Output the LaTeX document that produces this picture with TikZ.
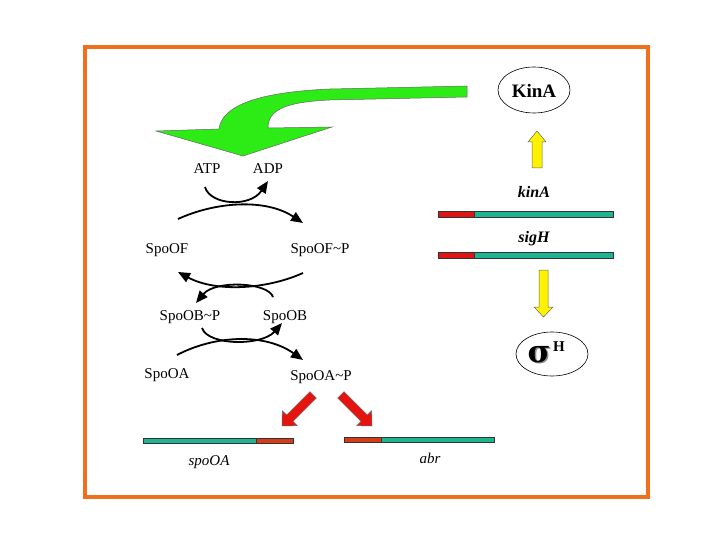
\documentclass[tikz,border=0pt]{standalone}
\usepackage{fontspec}
\setmainfont{Liberation Serif}
\newfontfamily\sigmafont{DejaVu Serif}
\usetikzlibrary{arrows.meta,shapes.geometric}
\definecolor{borderorange}{RGB}{238,112,28}
\definecolor{arrowgreen}{RGB}{45,235,20}
\definecolor{genteal}{RGB}{30,180,145}
\definecolor{genred}{RGB}{225,20,20}
\definecolor{genorange}{RGB}{215,60,25}
\definecolor{blockred}{RGB}{230,20,15}
\begin{document}
\begin{tikzpicture}[x=1pt,y=-1pt,
  lbl/.style={inner sep=0pt, anchor=base, font=\fontsize{15}{15}\selectfont},
  genelbl/.style={inner sep=0pt, anchor=base, font=\fontsize{15}{15}\selectfont\itshape},
  genebold/.style={inner sep=0pt, anchor=base, font=\fontsize{16}{16}\selectfont\bfseries\itshape},
  react/.style={line width=1.8pt, -{Triangle[length=12pt,width=10pt]}},
  bar/.style={draw=black!80, line width=0.6pt},
  ellnode/.style={ellipse, draw, line width=0.6pt, inner sep=0pt},
  blockarrow/.style={draw=black!60, line width=0.5pt},
]
\useasboundingbox (0,0) rectangle (720,540);
% frame
\draw[borderorange, line width=4pt] (84.5,47) rectangle (647.5,497);

% green curved arrow
\draw[blockarrow, fill=arrowgreen] (467,86) -- (467,97) -- (330,100)
  .. controls (285,102) and (268,110) .. (268,128) -- (332,127) -- (243,156)
  -- (156,131) -- (219,129) .. controls (222,105) and (260,92) .. (330,89) -- cycle;

% right side
\node[ellnode, minimum width=72pt, minimum height=46pt] (kinaprot) at (534,90) {};
\node[inner sep=0pt, anchor=base, font=\fontsize{19}{19}\selectfont\bfseries] (kinatext) at (534,98) {KinA};
\draw[blockarrow, fill=yellow] (532,168) -- (532,142) -- (528,142) -- (537,131) -- (546,142) -- (542,142) -- (542,168) -- cycle;
\node[genebold] (kinagene) at (534,197) {kinA};
\draw[bar, fill=genred] (438,211) rectangle (474,217);
\draw[bar, fill=genteal] (474,211) rectangle (613,217);
\node[genebold] (sighgene) at (534,243) {sigH};
\draw[bar, fill=genred] (438,252) rectangle (474,258);
\draw[bar, fill=genteal] (474,252) rectangle (613,258);
\draw[blockarrow, fill=yellow] (539,270) -- (539,307) -- (534,307) -- (543.5,317) -- (553,307) -- (548,307) -- (548,270) -- cycle;
\node[ellnode, minimum width=72pt, minimum height=44pt] (sigmah) at (552,354) {};
\node[inner sep=0pt, anchor=base, text=black!45, font=\fontsize{31}{31}\sigmafont\bfseries] (sigshadow) at (540.5,363.5) {σ};
\node[inner sep=0pt, anchor=base, font=\fontsize{31}{31}\sigmafont\bfseries] (sigglyph) at (539,362) {σ};
\node[inner sep=0pt, anchor=base, font=\fontsize{15}{15}\selectfont\bfseries] (hsup) at (559,351) {H};

% left panel labels
\node[lbl] (atp) at (207,174) {ATP};
\node[lbl] (adp) at (268,174) {ADP};
\node[lbl] (spoof) at (167,253) {SpoOF};
\node[lbl] (spoofp) at (320,253) {SpoOF\textasciitilde P};
\node[lbl] (spoobp) at (190,320) {SpoOB\textasciitilde P};
\node[lbl] (spoob) at (285,320) {SpoOB};
\node[lbl] (spooa) at (167,378) {SpoOA};
\node[lbl] (spooap) at (321,380) {SpoOA\textasciitilde P};

% curve end points
\coordinate (c1s) at (205,187);  \coordinate (c1e) at (268,181);
\coordinate (c2s) at (178,219);  \coordinate (c2e) at (303,223);
\coordinate (c3s) at (303,273);  \coordinate (c3e) at (178,272);
\coordinate (c4s) at (273,297);  \coordinate (c4e) at (196,303);
\coordinate (c5s) at (202,328);  \coordinate (c5e) at (282,323);
\coordinate (c6s) at (177,355);  \coordinate (c6e) at (303,360);

\draw[react] (c1s) .. controls (210,205) and (250,208) .. (c1e);
\draw[react] (c2s) .. controls (215,202) and (265,198) .. (c2e);
\draw[react] (c3s) .. controls (265,290) and (215,292) .. (c3e);
\draw[react] (c4s) .. controls (268,282) and (215,280) .. (c4e);
\draw[react] (c5s) .. controls (208,346) and (262,346) .. (c5e);
\draw[react] (c6s) .. controls (215,335) and (265,333) .. (c6e);

% red block arrows
\begin{scope}[shift={(282,426)}, rotate=45]
  \draw[blockarrow, fill=blockred] (0,0) -- (11,-10.5) -- (11,-4.5) -- (44,-4.5) -- (44,4.5) -- (11,4.5) -- (11,10.5) -- cycle;
\end{scope}
\begin{scope}[shift={(372,426)}, rotate=135]
  \draw[blockarrow, fill=blockred] (0,0) -- (11,-10.5) -- (11,-4.5) -- (44,-4.5) -- (44,4.5) -- (11,4.5) -- (11,10.5) -- cycle;
\end{scope}

% bottom genes
\draw[bar, fill=genteal] (143,438) rectangle (256,443);
\draw[bar, fill=genorange] (256,438) rectangle (293,443);
\draw[bar, fill=genorange] (344,437.5) rectangle (381,442.5);
\draw[bar, fill=genteal] (381,437.5) rectangle (494,442.5);
\node[genelbl] (spoagene) at (209,465) {spoOA};
\node[genelbl] (abrgene) at (430,463) {abr};
\end{tikzpicture}
\end{document}
